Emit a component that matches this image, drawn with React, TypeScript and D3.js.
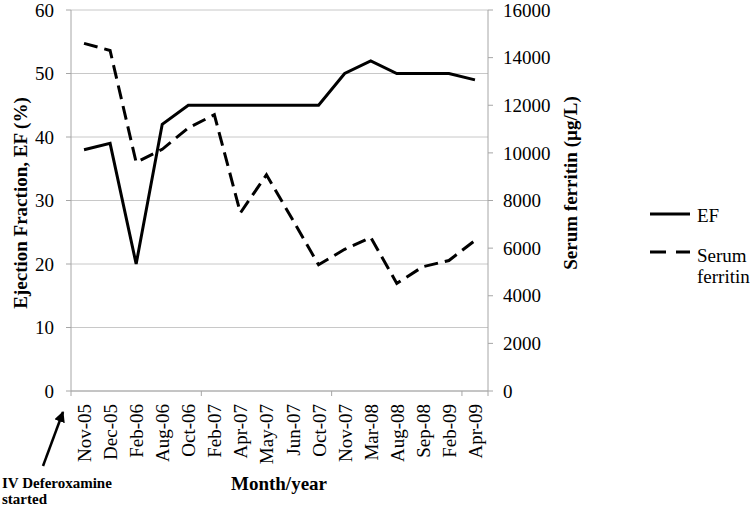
import React from 'react'
import * as d3 from 'd3'

const months = ['Nov-05', 'Dec-05', 'Feb-06', 'Aug-06', 'Oct-06', 'Feb-07', 'Apr-07', 'May-07',
    'Jun-07', 'Oct-07', 'Nov-07', 'Mar-08', 'Aug-08', 'Sep-08', 'Feb-09', 'Apr-09']
const efValues = [38, 39, 20, 42, 45, 45, 45, 45, 45, 45, 50, 52, 50, 50, 50, 49]
const ferritinValues = [14600, 14300, 9600, 10150, 11050, 11600, 7480, 9080, 7200, 5300,
    5950, 6450, 4520, 5220, 5480, 6320]
const efTicks = [0, 10, 20, 30, 40, 50, 60]
const ferritinTicks = [0, 2000, 4000, 6000, 8000, 10000, 12000, 14000, 16000]

const FONT = "'Liberation Serif', 'Times New Roman', serif"
const W = 756, H = 506
const m = { left: 71, right: 488, top: 10, bottom: 391 }
const DASH = '14,7'
const FS = 19

export default function App() {
    const x = d3.scaleBand<string>().domain(months).range([m.left, m.right])
    const yL = d3.scaleLinear().domain([0, 60]).range([m.bottom, m.top])
    const yR = d3.scaleLinear().domain([0, 16000]).range([m.bottom, m.top])
    const cx = (d: string) => (x(d) as number) + x.bandwidth() / 2

    const efLine = d3.line<number>()
        .x((_, i) => cx(months[i]))
        .y(d => yL(d))
    const ferLine = d3.line<number>()
        .x((_, i) => cx(months[i]))
        .y(d => yR(d))

    // category ticks every 5 bands
    const xTicks = [0, 5, 10, 15].map(i => x(months[i]) as number).concat([m.right])

    return (
        <svg width={W} height={H} style={{ position: 'absolute', left: 0, top: 0, background: '#fff', fontFamily: FONT }}>
            <defs>
                <marker id="arrow" viewBox="0 0 10 10" refX="9" refY="5" markerWidth="11" markerHeight="11"
                    markerUnits="userSpaceOnUse" orient="auto">
                    <path d="M0,0 L10,5 L0,10 z" fill="#000" />
                </marker>
            </defs>

            {/* gridlines */}
            {efTicks.map(t => (
                <line key={'g' + t} x1={m.left} x2={m.right} y1={yL(t)} y2={yL(t)}
                    stroke="#c8c8c8" strokeWidth={1} />
            ))}

            {/* axes */}
            <line x1={m.left} x2={m.left} y1={m.top} y2={m.bottom} stroke="#a6a6a6" />
            <line x1={m.right} x2={m.right} y1={m.top} y2={m.bottom} stroke="#a6a6a6" />
            <line x1={m.left} x2={m.right} y1={m.bottom} y2={m.bottom} stroke="#a6a6a6" />
            {efTicks.map(t => (
                <g key={'l' + t}>
                    <line x1={m.left - 5} x2={m.left} y1={yL(t)} y2={yL(t)} stroke="#a6a6a6" />
                    <text x={m.left - 17} y={yL(t)} dy="0.35em" textAnchor="end" fontSize={FS}>{t}</text>
                </g>
            ))}
            {ferritinTicks.map(t => (
                <g key={'r' + t}>
                    <line x1={m.right} x2={m.right + 5} y1={yR(t)} y2={yR(t)} stroke="#a6a6a6" />
                    <text x={m.right + 15} y={yR(t)} dy="0.35em" textAnchor="start" fontSize={FS}>{t}</text>
                </g>
            ))}
            {xTicks.map((t, i) => (
                <line key={'xt' + i} x1={t} x2={t} y1={m.bottom} y2={m.bottom + 5} stroke="#a6a6a6" />
            ))}
            {months.map(mo => (
                <text key={mo} transform={`translate(${cx(mo) + 7},${m.bottom + 13}) rotate(-90)`}
                    textAnchor="end" fontSize={FS}>{mo}</text>
            ))}

            {/* axis titles */}
            <text transform={`translate(27,203) rotate(-90)`} textAnchor="middle"
                fontSize={FS} fontWeight="bold">Ejection Fraction, EF (%)</text>
            <text transform={`translate(577,183) rotate(-90)`} textAnchor="middle"
                fontSize={FS} fontWeight="bold">Serum ferritin (µg/L)</text>
            <text x={279} y={490} textAnchor="middle" fontSize={FS} fontWeight="bold">Month/year</text>

            {/* series */}
            <path d={efLine(efValues) || ''} fill="none" stroke="#000" strokeWidth={3} />
            <path d={ferLine(ferritinValues) || ''} fill="none" stroke="#000" strokeWidth={3}
                strokeDasharray={DASH} />

            {/* legend */}
            <line x1={650} x2={690} y1={214} y2={214} stroke="#000" strokeWidth={3} />
            <text x={697} y={215} dy="0.35em" fontSize={FS}>EF</text>
            <line x1={650} x2={690} y1={252} y2={252} stroke="#000" strokeWidth={3} strokeDasharray="16,10" />
            <text x={697} y={255} dy="0.35em" fontSize={FS}>Serum</text>
            <text x={697} y={276} dy="0.35em" fontSize={FS}>ferritin</text>

            {/* annotation */}
            <line x1={43} y1={466} x2={63} y2={412} stroke="#000" strokeWidth={2.5} markerEnd="url(#arrow)" />
            <text x={2} y={488} fontSize={15} fontWeight="bold">IV Deferoxamine</text>
            <text x={2} y={504} fontSize={15} fontWeight="bold">started</text>
        </svg>
    )
}
